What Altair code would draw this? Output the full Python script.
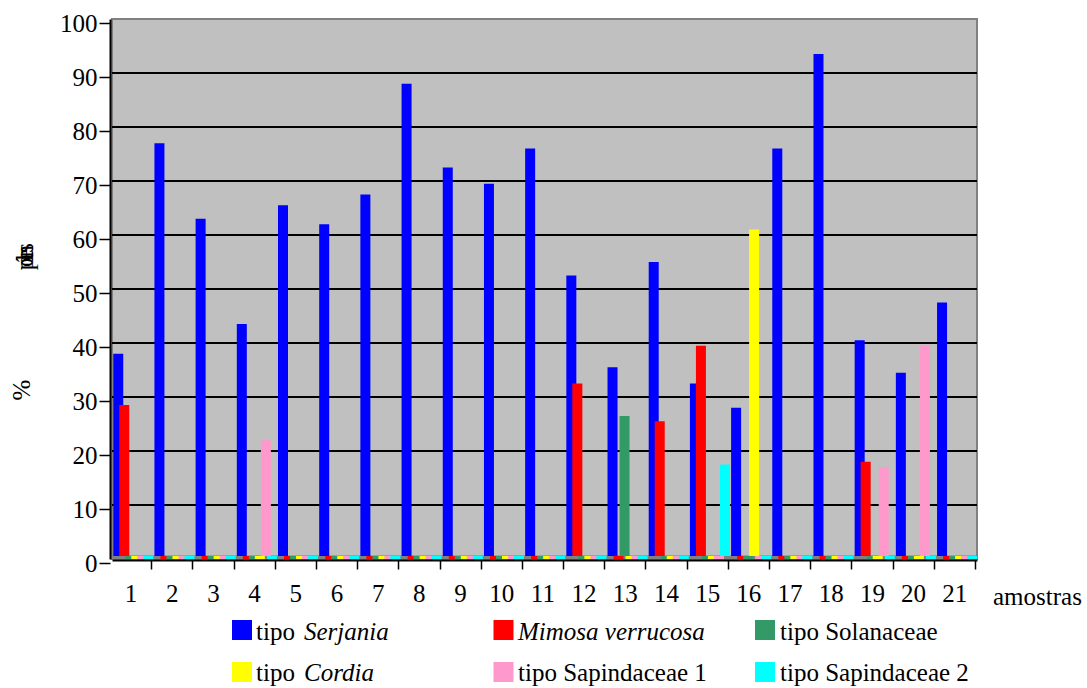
import altair as alt
import pandas as pd

# --- data -------------------------------------------------------------
samples = [1, 2, 3, 4, 5, 6, 7, 8, 9, 10, 11, 12, 13, 14, 15, 16, 17, 18, 19, 20, 21]

series_names = ["tipo Serjania", "Mimosa verrucosa", "tipo Solanaceae",
                "tipo Cordia", "tipo Sapindaceae 1", "tipo Sapindaceae 2"]
series_colors = ["#0000FF", "#FF0000", "#339966", "#FFFF00", "#FF99CC", "#00FFFF"]

serjania = [38, 77, 63, 43.5, 65.5, 62, 67.5, 88, 72.5, 69.5, 76,
            52.5, 35.5, 55, 32.5, 28, 76, 93.5, 40.5, 34.5, 47.5]
mimosa = [28.5, 0, 0, 0, 0, 0, 0, 0, 0, 0, 0,
          32.5, 0, 25.5, 39.5, 0, 0, 0, 18, 0, 0]
solanaceae = [0, 0, 0, 0, 0, 0, 0, 0, 0, 0, 0,
              0, 26.5, 0, 0, 0, 0, 0, 0, 0, 0]
cordia = [0, 0, 0, 0, 0, 0, 0, 0, 0, 0, 0,
          0, 0, 0, 0, 61, 0, 0, 0, 0, 0]
sapindaceae1 = [0, 0, 0, 22, 0, 0, 0, 0, 0, 0, 0,
                0, 0, 0, 0, 0, 0, 0, 17, 39.5, 0]
sapindaceae2 = [0, 0, 0, 0, 0, 0, 0, 0, 0, 0, 0,
                0, 0, 0, 17.5, 0, 0, 0, 0, 0, 0]

y_ticks = [0, 10, 20, 30, 40, 50, 60, 70, 80, 90, 100]
grid_values = [10, 20, 30, 40, 50, 60, 70, 80, 90]

# legend labels: upright part and italic part
legend_roman = ["tipo ", "", "tipo Solanaceae", "tipo ", "tipo Sapindaceae 1", "tipo Sapindaceae 2"]
legend_italic = ["Serjania", "Mimosa verrucosa", "", "Cordia", "", ""]

y_title = "%"
y_title_garbled = ["p", "ó", "l", "e", "n", "s"]
x_title = "amostras"

# --- layout -------------------------------------------------------------
FONT = "Liberation Serif"
W, H = 865, 540
PAD = {"left": 112, "top": 19, "right": 110, "bottom": 129}
HALF_BAND = W / len(samples) / 2

BAR_SHIFT = 0.03   # group start inside its band
BAR_STEP = 0.146   # offset between neighbouring series (bars overlap)
BAR_W = 0.243      # bar width, in band units

rows = []
all_series = [serjania, mimosa, solanaceae, cordia, sapindaceae1, sapindaceae2]
for k, (name, vals) in enumerate(zip(series_names, all_series)):
    for s, v in zip(samples, vals):
        rows.append({"amostra": s, "serie": name, "ordem": k, "valor": v})
bars_df = pd.DataFrame(rows)

legend_df = pd.DataFrame({
    "serie": series_names,
    "ordem": list(range(len(series_names))),
    "roman": legend_roman,
    "italic": legend_italic,
})

color_scale = alt.Scale(domain=series_names, range=series_colors)
x_scale = alt.Scale(domain=[0.5, 21.5], nice=False, zero=False)
y_scale = alt.Scale(domain=[0, 100], nice=False)

x_axis = alt.Axis(
    values=samples, format="d", title=None, grid=False,
    domainColor="black", domainWidth=2, offset=1,
    tickColor="black", tickWidth=1.5, tickSize=9,
    tickOffset=HALF_BAND - 2, labelOffset=-HALF_BAND - 0.1,
    labelFont=FONT, labelFontSize=25, labelColor="black",
    labelPadding=12, labelFlush=False, labelOverlap=False,
)
y_axis = alt.Axis(
    values=y_ticks, title=None, grid=False,
    domainColor="black", domainWidth=2, offset=2,
    tickColor="black", tickWidth=1.5, tickSize=11, tickOffset=4,
    labelFont=FONT, labelFontSize=25, labelColor="black", labelPadding=2,
    labelFlush=False, labelOverlap=False,
)

# back-wall gridlines and floor
grid = alt.Chart(pd.DataFrame({"v": grid_values})).mark_rule(
    color="black", strokeWidth=2
).encode(y=alt.Y("v:Q", scale=y_scale, axis=y_axis))

floor = alt.Chart(pd.DataFrame({"v": [0]})).mark_rule(
    color="#808080", strokeWidth=3, yOffset=-2
).encode(y=alt.Y("v:Q", scale=y_scale))

# bars (zero values leave a short stub on the floor)
bars = alt.Chart(bars_df).transform_calculate(
    x0=f"datum.amostra - 0.5 + {BAR_SHIFT} + datum.ordem * {BAR_STEP}"
).transform_calculate(
    x1=f"datum.x0 + {BAR_W}"
).mark_rect(y2Offset=-3).encode(
    x=alt.X("x0:Q", scale=x_scale, axis=x_axis),
    x2="x1:Q",
    y=alt.Y("valor:Q", scale=y_scale),
    y2=alt.datum(0),
    color=alt.Color("serie:N", scale=color_scale, legend=None),
)

# axis titles
y_title_mark = alt.Chart(pd.DataFrame({"t": [y_title]})).mark_text(
    font=FONT, fontSize=25, angle=270, color="black", align="center", baseline="middle"
).encode(text="t:N", x=alt.value(22 - PAD["left"]), y=alt.value(390 - PAD["top"]))

garbled = alt.Chart(pd.DataFrame({"ch": y_title_garbled, "i": list(range(len(y_title_garbled)))})).transform_calculate(
    py=f"{264 - PAD['top']} - datum.i * 3.2",
    px=f"{25 - PAD['left']}"
).mark_text(
    font=FONT, fontSize=25, angle=270, color="black", align="center", baseline="middle"
).encode(text="ch:N", x=alt.X("px:Q", scale=None), y=alt.Y("py:Q", scale=None))

x_title_mark = alt.Chart(pd.DataFrame({"t": [x_title]})).mark_text(
    font=FONT, fontSize=25, color="black", align="left", baseline="middle"
).encode(text="t:N", x=alt.value(993 - PAD["left"]), y=alt.value(597 - PAD["top"]))

# legend (3 columns x 2 rows, italic taxon names)
legend_base = alt.Chart(legend_df).transform_calculate(
    col="datum.ordem % 3",
    row="floor(datum.ordem / 3)",
).transform_calculate(
    sx=f"{242 - PAD['left']} + datum.col * 261.5",
    sy=f"{630 - PAD['top']} + datum.row * 42",
    tx=f"{256 - PAD['left']} + datum.col * 262",
    ty=f"{632 - PAD['top']} + datum.row * 41",
).transform_calculate(
    ix="datum.tx + (datum.roman != '' ? 48 : 0)"
)

legend_squares = legend_base.mark_square(size=400, opacity=1).encode(
    x=alt.X("sx:Q", scale=None), y=alt.Y("sy:Q", scale=None),
    color=alt.Color("serie:N", scale=color_scale, legend=None),
)
legend_roman_text = legend_base.mark_text(
    font=FONT, fontSize=25, color="black", align="left", baseline="middle"
).encode(x=alt.X("tx:Q", scale=None), y=alt.Y("ty:Q", scale=None), text="roman:N")
legend_italic_text = legend_base.mark_text(
    font=FONT, fontSize=25, fontStyle="italic", color="black", align="left", baseline="middle"
).encode(x=alt.X("ix:Q", scale=None), y=alt.Y("ty:Q", scale=None), text="italic:N")

chart = alt.layer(
    grid, floor, bars, y_title_mark, garbled, x_title_mark,
    legend_squares, legend_roman_text, legend_italic_text,
).properties(
    width=W, height=H,
    autosize=alt.AutoSizeParams(type="none"),
    padding=PAD,
    background="white",
).configure_view(
    fill="#C0C0C0", stroke="#808080", strokeWidth=2,
)

chart.save("out.html", embed_options={"renderer": "svg", "actions": False})
